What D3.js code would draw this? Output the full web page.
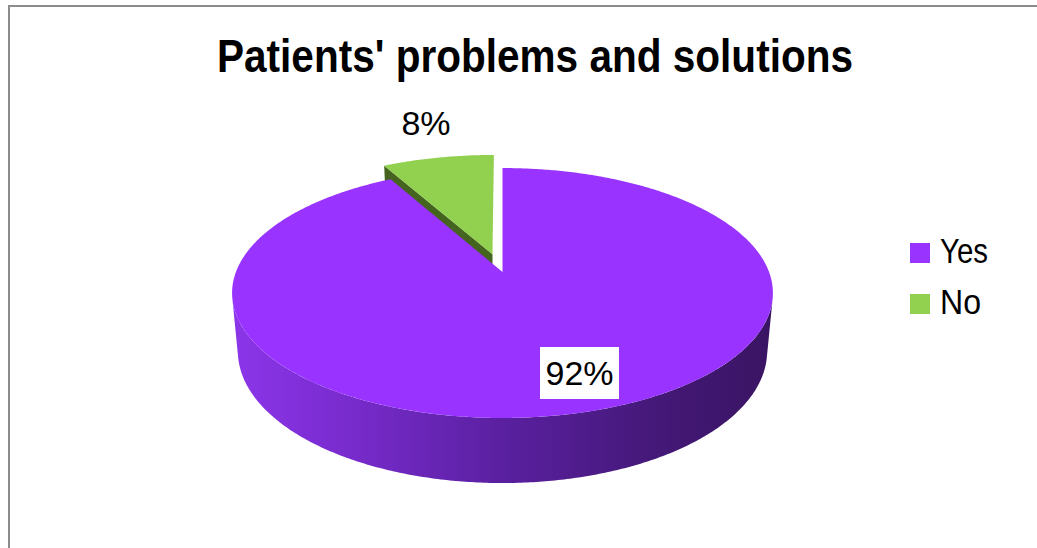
<!DOCTYPE html>
<html>
<head>
<meta charset="utf-8">
<script src="https://cdn.jsdelivr.net/npm/d3@7"></script>
<style>
  html, body { margin: 0; padding: 0; background: #fff; }
  svg { display: block; font-family: "Liberation Sans", Arial, sans-serif; }
</style>
</head>
<body>
<svg id="chart" width="1037" height="548"></svg>
<script>
// Survey answers
const categories = ["Yes", "No"];
const values = [92, 8];
const labels = ["92%", "8%"];
const chartTitle = "Patients' problems and solutions";

// Colours per answer
const topColors = ["#9933ff", "#92d050"];
const faceColors = ["#5a219f", "#45641f"];

// 3D view of the pie: camera elevation, distance and focal scale
const view = {
  elev: Math.asin(0.4556),
  dist: 5.297,
  focal: 1412,
  ox: 502.5,
  oy: 272,
  height: 0.247
};
const explode = [0, 0.155];

const svg = d3.select("#chart");
const W = 1037, H = 548;

// frame
svg.append("path")
  .attr("d", `M9,${H} L9,6 L${W},6`)
  .attr("fill", "none")
  .attr("stroke", "#8c8c8c")
  .attr("stroke-width", 2);

// title
svg.append("text")
  .attr("x", 535).attr("y", 72)
  .attr("text-anchor", "middle")
  .attr("font-size", 47).attr("font-weight", "bold")
  .attr("textLength", 636).attr("lengthAdjust", "spacingAndGlyphs")
  .text(chartTitle);

const sE = Math.sin(view.elev), cE = Math.cos(view.elev);
function proj(X, Y, Z) {
  const depth = view.dist - Y * sE - Z * cE;
  const vu = Y * cE - Z * sE;
  return [view.ox + view.focal * X / depth, view.oy - view.focal * vu / depth];
}
const cam = [0, view.dist * sE, view.dist * cE];

const color = d3.scaleOrdinal().domain(categories).range(topColors);
const faceColor = d3.scaleOrdinal().domain(categories).range(faceColors);

const arcs = d3.pie().sort(null).value(d => d)(values);
const line = d3.line();

const slices = arcs.map((a, i) => {
  const mid = (a.startAngle + a.endAngle) / 2;
  const e = explode[i];
  return {
    name: categories[i], label: labels[i], a0: a.startAngle, a1: a.endAngle, mid,
    ex: e * Math.sin(mid), ez: -e * Math.cos(mid)
  };
});

function rim(sl, t, y, r = 1) {
  return proj(sl.ex + r * Math.sin(t), y, sl.ez - r * Math.cos(t));
}
function arcPts(sl, t0, t1, y) {
  const n = Math.max(2, Math.ceil(Math.abs(t1 - t0) / 0.01));
  return d3.range(n + 1).map(j => rim(sl, t0 + (t1 - t0) * j / n, y));
}

// gradient for the curved outer wall
const defs = svg.append("defs");
const grad = defs.append("linearGradient")
  .attr("id", "wall")
  .attr("gradientUnits", "userSpaceOnUse")
  .attr("x1", 232).attr("x2", 773).attr("y1", 0).attr("y2", 0);
[[0, "#8c35ea"], [0.2, "#7a2ccf"], [0.5, "#5a20a0"], [0.8, "#431876"], [1, "#3a1463"]]
  .forEach(([o, c]) => grad.append("stop").attr("offset", o).attr("stop-color", c));

const g = svg.append("g");
const hgt = view.height;

// back-to-front: exploded slice first, then the main slice
const order = slices.slice().sort((a, b) => (b.name === "No") - (a.name === "No"));

order.forEach(sl => {
  // radial cut face at the start angle, when it faces the camera
  const t = sl.a0;
  const n = [-Math.cos(t), 0, -Math.sin(t)];
  const p = [sl.ex + 0.5 * Math.sin(t), 0, sl.ez - 0.5 * Math.cos(t)];
  const dot = (cam[0] - p[0]) * n[0] + (cam[1] - p[1]) * n[1] + (cam[2] - p[2]) * n[2];
  if (dot > 0 && sl.a0 > 0) {
    const pts = [proj(sl.ex, 0, sl.ez), rim(sl, t, 0), rim(sl, t, -hgt), proj(sl.ex, -hgt, sl.ez)];
    g.append("path").attr("d", line(pts) + "Z").attr("fill", faceColor(sl.name));
  }

  // outer wall, only the part that faces the camera
  const vis = tt => {
    const P = [sl.ex + Math.sin(tt), 0, sl.ez - Math.cos(tt)];
    const N = [Math.sin(tt), 0, -Math.cos(tt)];
    return (cam[0] - P[0]) * N[0] + (cam[1] - P[1]) * N[1] + (cam[2] - P[2]) * N[2] > 0;
  };
  const steps = d3.range(sl.a0, sl.a1, 0.002).concat([sl.a1]);
  const visT = steps.filter(vis);
  if (visT.length > 1) {
    const w0 = visT[0], w1 = visT[visT.length - 1];
    const pts = arcPts(sl, w0, w1, 0).concat(arcPts(sl, w1, w0, -hgt));
    g.append("path").attr("d", line(pts) + "Z").attr("fill", "url(#wall)");
  }

  // top face
  const top = [proj(sl.ex, 0, sl.ez)].concat(arcPts(sl, sl.a0, sl.a1, 0));
  g.append("path").attr("d", line(top) + "Z").attr("fill", color(sl.name));
});

// data labels
const labelPos = { "Yes": [579.5, 385, true], "No": [426, 135, false] };
slices.forEach(sl => {
  const [x, y, boxed] = labelPos[sl.name];
  if (boxed) {
    svg.append("rect").attr("x", x - 39.5).attr("y", y - 38).attr("width", 79).attr("height", 52)
      .attr("fill", "#fff");
  }
  svg.append("text")
    .attr("x", x).attr("y", y)
    .attr("text-anchor", "middle")
    .attr("font-size", 34)
    .attr("fill", "#000")
    .text(sl.label);
});

// legend
const legend = svg.append("g");
const legendText = { "Yes": 48, "No": 41 };
categories.forEach((cat, i) => {
  const y = 243 + i * 51;
  legend.append("rect").attr("x", 910).attr("y", y).attr("width", 20).attr("height", 20)
    .attr("fill", color(cat));
  legend.append("text").attr("x", 940).attr("y", y + 20)
    .attr("font-size", 35)
    .attr("textLength", legendText[cat]).attr("lengthAdjust", "spacingAndGlyphs")
    .text(cat);
});
</script>
</body>
</html>
